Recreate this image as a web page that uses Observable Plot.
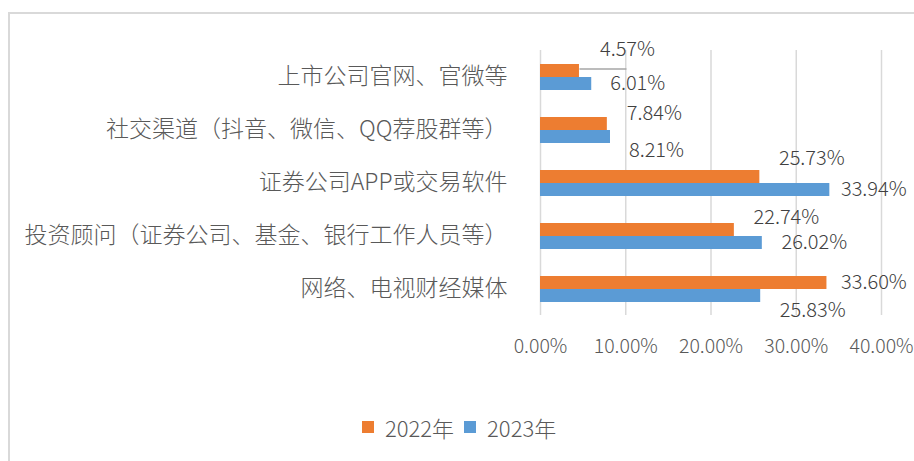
<!DOCTYPE html>
<html><head><meta charset="utf-8">
<script src="https://cdn.jsdelivr.net/npm/d3@7"></script>
<script src="https://cdn.jsdelivr.net/npm/@observablehq/plot@0.6"></script>
<style>
body{margin:0;background:#fff;font-family:"Noto Sans CJK SC","Noto Sans",sans-serif;}
#wrap{position:relative;width:914px;height:461px;overflow:hidden;background:#fff;}
#border{position:absolute;left:8px;top:12px;width:1000px;height:1000px;border:2px solid #d9d9d9;box-sizing:border-box;}
#chart{position:absolute;left:0;top:0;}
#chart svg text{font-weight:300;}
#legend{position:absolute;left:362px;top:410px;height:34px;display:flex;align-items:center;font-size:22px;font-weight:300;color:#595959;font-family:"Noto Sans CJK SC",sans-serif;}
#legend .sw{width:12px;height:12px;display:inline-block;margin-right:11px;}
#legend .item{display:flex;align-items:center;margin-right:10px;}
</style>
</head><body>
<div id="wrap"><div id="border"></div><div id="chart"></div><div id="legend"></div></div>
<script>
const categories = ["上市公司官网、官微等","社交渠道（抖音、微信、QQ荐股群等）","证券公司APP或交易软件","投资顾问（证券公司、基金、银行工作人员等）","网络、电视财经媒体"];
const years = ["2022年","2023年"];
const values2022 = [4.57, 7.84, 25.73, 22.74, 33.60];
const values2023 = [6.01, 8.21, 33.94, 26.02, 25.83];
const xTicks = [0, 10, 20, 30, 40];
const colors = ["#ED7D31", "#5B9BD5"];

// label placement offsets (pixels, relative to bar end / bar center), like the moved Excel labels
const labelDx2022 = [48, 47, 52, 52, 47];
const labelDy2022 = [-21, -10, -18, -12, 0];
const labelDx2023 = [46, 46, 44, 52, 52];
const labelDy2023 = [0, 14, 0, 0, 15];

const W = 914, H = 400, ML = 540, MR = 33, MT = 48, MB = 83;
const pxPerUnit = (W - ML - MR) / (xTicks[xTicks.length - 1] - xTicks[0]);

const rows = [];
categories.forEach((c, i) => {
  rows.push({category: c, year: years[0], value: values2022[i], dx: labelDx2022[i], dy: labelDy2022[i]});
  rows.push({category: c, year: years[1], value: values2023[i], dx: labelDx2023[i], dy: labelDy2023[i]});
});

const labelMarks = rows.map(r => Plot.text([r], {
  x: "value", y: "year", fy: "category",
  text: d => d.value.toFixed(2) + "%",
  dx: r.dx, dy: r.dy, textAnchor: "middle",
  fontSize: 20, fill: "#404040"
}));

const leader = Plot.link([rows[0]], {
  x1: "value", x2: d => d.value + (d.dx - 1) / pxPerUnit,
  y1: "year", y2: "year", fy: "category",
  stroke: "#a6a6a6", strokeWidth: 1.5, dy: -2
});

const chart = Plot.plot({
  width: W, height: H,
  marginLeft: ML, marginRight: MR, marginTop: MT, marginBottom: MB,
  style: {fontFamily: '"Noto Sans CJK SC", "Noto Sans", sans-serif', color: "#595959", background: "transparent", overflow: "visible"},
  x: {domain: [0, 40], label: null},
  y: {domain: years, axis: null, paddingInner: 0, paddingOuter: 0.92},
  fy: {domain: categories, padding: 0, label: null, axis: null},
  color: {domain: years, range: colors},
  marks: [
    Plot.gridX(xTicks, {stroke: "#d9d9d9", strokeOpacity: 1, strokeWidth: 1.5}),
    Plot.barX(rows, {x: "value", y: "year", fy: "category", fill: "year"}),
    leader,
    ...labelMarks,
    Plot.axisFy({anchor: "left", tickSize: 0, tickPadding: 33, fontSize: 23, label: null, fill: "#595959"}),
    Plot.axisX({ticks: xTicks, tickFormat: d => d.toFixed(2) + "%", tickSize: 0, tickPadding: 24, fontSize: 19.5, label: null, fill: "#595959"})
  ]
});
document.getElementById("chart").appendChild(chart);

const legend = document.getElementById("legend");
years.forEach((y, i) => {
  const item = document.createElement("span");
  item.className = "item";
  const sw = document.createElement("span");
  sw.className = "sw";
  sw.style.background = colors[i];
  item.appendChild(sw);
  item.appendChild(document.createTextNode(y));
  legend.appendChild(item);
});
</script>
</body></html>
